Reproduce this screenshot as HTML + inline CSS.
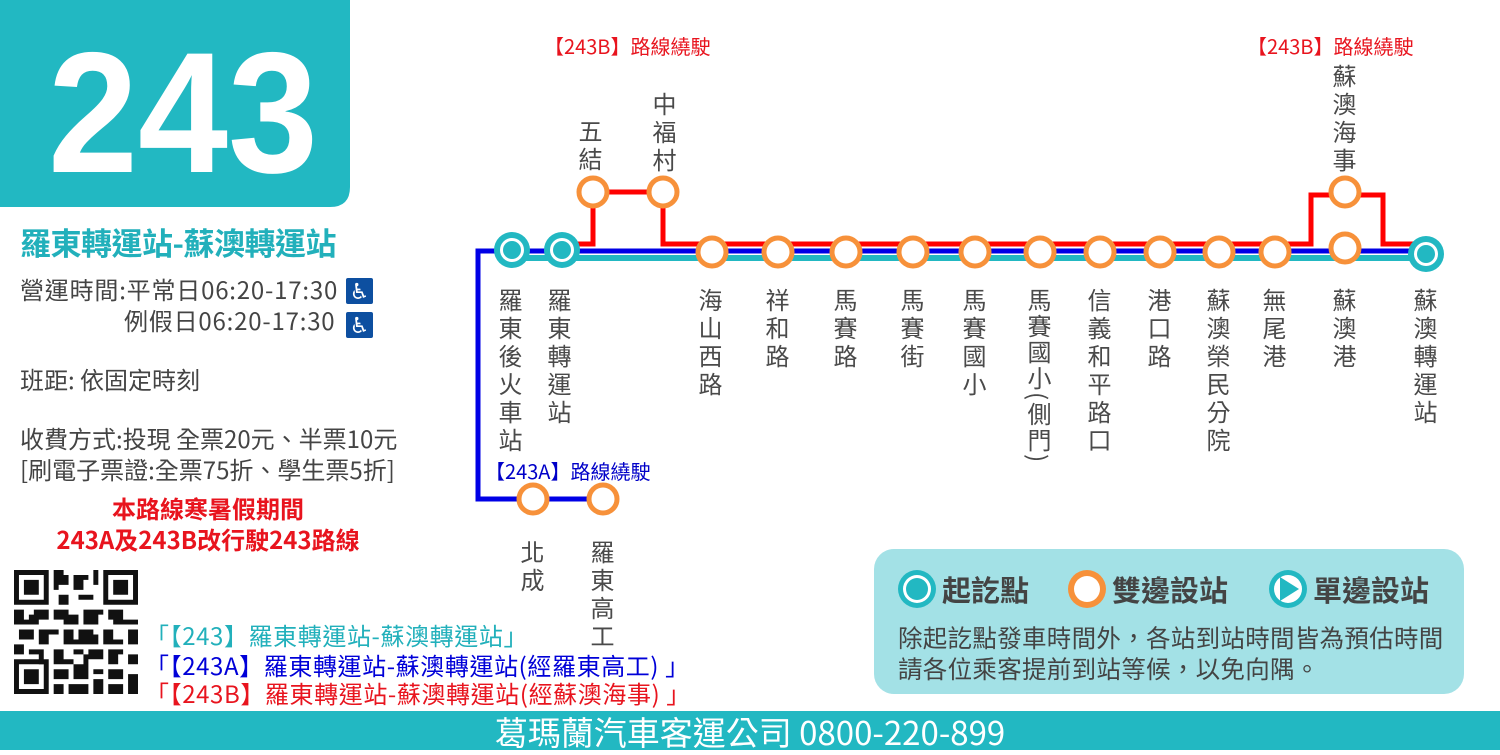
<!DOCTYPE html>
<html><head><meta charset="utf-8"><style>
body{margin:0;width:1500px;height:750px;position:relative;overflow:hidden;background:#fff;font-family:"Liberation Sans","Noto Sans CJK TC",sans-serif;}
.a{position:absolute;white-space:nowrap;}
.v{position:absolute;writing-mode:vertical-rl;text-orientation:mixed;font-family:"Noto Sans CJK TC",sans-serif;font-size:24px;line-height:24px;letter-spacing:4px;color:#4a4a4a;width:26px;}
.cjk{font-family:"Noto Sans CJK TC",sans-serif;}
</style></head><body>
<svg width="1500" height="750" style="position:absolute;left:0;top:0">
<path d="M0 0H350V187Q350 207 330 207H0Z" fill="#22b8c2"/>
<text x="183" y="172" text-anchor="middle" font-family="Liberation Sans" font-weight="bold" font-size="172" fill="#fff" textLength="270" lengthAdjust="spacingAndGlyphs">243</text>
<rect x="0" y="711" width="1500" height="39" fill="#22b8c2"/>
<rect x="874" y="549" width="590" height="145" rx="20" fill="#a3e1e6"/>
<polyline points="512,258 1425,258" stroke="#22b8c2" stroke-width="6" fill="none"/>
<polyline points="1425,251 478,251 478,499 603,499" stroke="#0000e6" stroke-width="5" fill="none"/>
<polyline points="562,244 593,244 593,192 663,192 663,244 1311,244 1311,195 1383,195 1383,244 1425,244" stroke="#f00" stroke-width="5" fill="none"/>
<g fill="#fff" stroke="#f7913a" stroke-width="5">
<circle cx="593" cy="192" r="14"/><circle cx="663" cy="192" r="14"/>
<circle cx="712" cy="252" r="14"/><circle cx="778" cy="252" r="14"/><circle cx="846" cy="252" r="14"/><circle cx="913" cy="252" r="14"/><circle cx="975" cy="252" r="14"/><circle cx="1040" cy="252" r="14"/><circle cx="1100" cy="252" r="14"/><circle cx="1160" cy="252" r="14"/><circle cx="1219" cy="252" r="14"/><circle cx="1275" cy="252" r="14"/><circle cx="1345" cy="248" r="14"/><circle cx="1345" cy="192" r="14"/>
<circle cx="533" cy="499" r="14"/><circle cx="603" cy="499" r="14"/>
</g>
<g>
<circle cx="512" cy="250" r="18" fill="#22b8c2"/><circle cx="512" cy="250" r="12" fill="#fff"/><circle cx="512" cy="250" r="9" fill="#22b8c2"/>
<circle cx="562" cy="250" r="18" fill="#22b8c2"/><circle cx="562" cy="250" r="12" fill="#fff"/><circle cx="562" cy="250" r="9" fill="#22b8c2"/>
<circle cx="1426" cy="254" r="18" fill="#22b8c2"/><circle cx="1426" cy="254" r="12" fill="#fff"/><circle cx="1426" cy="254" r="9" fill="#22b8c2"/>
</g>
<circle cx="917" cy="589" r="19" fill="#22b8c2"/><circle cx="917" cy="589" r="14" fill="#fff"/><circle cx="917" cy="589" r="11" fill="#22b8c2"/>
<circle cx="1087" cy="589" r="19" fill="#f7913a"/><circle cx="1087" cy="589" r="13" fill="#fff"/>
<circle cx="1288" cy="589" r="19" fill="#22b8c2"/><circle cx="1288" cy="589" r="14" fill="#fff"/><path d="M1280 577L1299 589L1280 601Z" fill="#22b8c2"/>
<rect x="346" y="278" width="27" height="26" rx="2" fill="#0d4fa0"/><text x="359.5" y="299" text-anchor="middle" fill="#fff" font-size="22" font-family="DejaVu Sans">♿</text>
<rect x="346" y="312" width="27" height="26" rx="2" fill="#0d4fa0"/><text x="359.5" y="333" text-anchor="middle" fill="#fff" font-size="22" font-family="DejaVu Sans">♿</text>
</svg>

<div class="a cjk" style="left:20px;top:219px;font-size:31px;font-weight:bold;color:#22b0bb;letter-spacing:-0.5px;">羅東轉運站-蘇澳轉運站</div>
<div class="a cjk" style="left:20px;top:271px;font-size:24px;color:#444;letter-spacing:0.8px;">營運時間:平常日06:20-17:30</div>
<div class="a cjk" style="left:124px;top:302px;font-size:24px;color:#444;letter-spacing:0.8px;">例假日06:20-17:30</div>
<div class="a cjk" style="left:20px;top:361px;font-size:24px;color:#444;">班距: 依固定時刻</div>
<div class="a cjk" style="left:20px;top:420px;font-size:24px;color:#444;">收費方式:投現 全票20元、半票10元</div>
<div class="a cjk" style="left:20px;top:451px;font-size:24px;color:#444;">[刷電子票證:全票75折、學生票5折]</div>
<div class="a cjk" style="left:0;width:416px;text-align:center;top:492px;font-size:24px;font-weight:bold;color:#e8141e;line-height:31px;white-space:normal;">本路線寒暑假期間<br>243A及243B改行駛243路線</div>

<svg width="124" height="124" style="position:absolute;left:14px;top:570px" viewBox="0 0 25 25">
<rect width="25" height="25" fill="#fff"/>
<g fill="#111">
<path d="M0 0h7v7h-7zM1 1v5h5v-5zM2 2h3v3h-3z" fill-rule="evenodd"/>
<path d="M18 0h7v7h-7zM19 1v5h5v-5zM20 2h3v3h-3z" fill-rule="evenodd"/>
<path d="M0 18h7v7h-7zM1 19v5h5v-5zM2 20h3v3h-3z" fill-rule="evenodd"/>
<path d="M8 0h2v1h1v2h-2v1h-1zM12 1h3v1h-1v2h-2zM16 0h1v3h-1zM9 5h2v2h-2zM13 5h3v1h-3zM8 8h3v1h2v2h-3v-1h-2zM0 8h2v2h1v1h-3zM4 8h3v2h-2v1h-1zM14 8h4v1h-1v2h-3zM19 8h3v2h3v1h-4v-1h-2zM1 12h3v2h-3zM5 12h4v1h-2v2h-2zM10 12h2v3h-2zM13 12h3v1h1v2h-4zM18 12h2v2h2v1h-4zM23 12h2v3h-2zM0 15h2v2h-2zM3 16h3v1h-3zM8 16h2v2h2v1h-4zM12 16h2v1h-2zM15 16h3v2h-3zM19 16h3v1h-1v2h-2zM23 17h2v2h-2zM8 20h3v2h-3zM12 19h3v3h-3zM16 20h2v1h-2zM19 20h3v2h-3zM8 23h2v2h-2zM11 23h4v2h-4zM16 22h2v3h-2zM19 23h3v2h-3zM23 21h2v4h-2zM9 2h1v1h-1zM3 9h1v2h-1zM11 14h2v1h-2zM5 17h1v2h-1zM20 10h2v1h-2zM14 17h1v2h-1z"/>
</g></svg>
<div class="a cjk" style="left:145px;top:617px;font-size:24px;color:#22b0bb;letter-spacing:0.6px;">「【243】羅東轉運站-蘇澳轉運站」</div>
<div class="a cjk" style="left:145px;top:647px;font-size:24px;color:#0000d8;letter-spacing:0.6px;">「【243A】羅東轉運站-蘇澳轉運站(經羅東高工) 」</div>
<div class="a cjk" style="left:145px;top:675px;font-size:24px;color:#e8141e;letter-spacing:0.6px;">「【243B】羅東轉運站-蘇澳轉運站(經蘇澳海事) 」</div>

<div class="a cjk" style="left:544px;top:31px;font-size:20px;color:#e8141e;">【243B】路線繞駛</div>
<div class="a cjk" style="left:1247px;top:31px;font-size:20px;color:#e8141e;">【243B】路線繞駛</div>
<div class="a cjk" style="left:485px;top:456px;font-size:20px;color:#0000c8;">【243A】路線繞駛</div>

<div class="v" style="left:576px;top:119px;">五結</div>
<div class="v" style="left:650px;top:92px;">中福村</div>
<div class="v" style="left:1330px;top:64px;">蘇澳海事</div>
<div class="v" style="left:496px;top:288px;">羅東後火車站</div>
<div class="v" style="left:545px;top:288px;">羅東轉運站</div>
<div class="v" style="left:696px;top:288px;">海山西路</div>
<div class="v" style="left:763px;top:288px;">祥和路</div>
<div class="v" style="left:831px;top:288px;">馬賽路</div>
<div class="v" style="left:898px;top:288px;">馬賽街</div>
<div class="v" style="left:960px;top:288px;">馬賽國小</div>
<div class="v" style="left:1025px;top:288px;letter-spacing:2px;">馬賽國小(側門)</div>
<div class="v" style="left:1085px;top:288px;">信義和平路口</div>
<div class="v" style="left:1145px;top:288px;">港口路</div>
<div class="v" style="left:1204px;top:288px;">蘇澳榮民分院</div>
<div class="v" style="left:1260px;top:288px;">無尾港</div>
<div class="v" style="left:1330px;top:288px;">蘇澳港</div>
<div class="v" style="left:1411px;top:288px;">蘇澳轉運站</div>
<div class="v" style="left:518px;top:540px;">北成</div>
<div class="v" style="left:588px;top:540px;">羅東高工</div>

<div class="a cjk" style="left:942px;top:568px;font-size:29px;font-weight:bold;color:#444;">起訖點</div>
<div class="a cjk" style="left:1112px;top:568px;font-size:29px;font-weight:bold;color:#444;">雙邊設站</div>
<div class="a cjk" style="left:1313px;top:568px;font-size:29px;font-weight:bold;color:#444;">單邊設站</div>
<div class="a cjk" style="left:898px;top:622px;font-size:24.5px;color:#444;line-height:31px;letter-spacing:0.3px;">除起訖點發車時間外，各站到站時間皆為預估時間<br>請各位乘客提前到站等候，以免向隅。</div>

<div class="a cjk" style="left:0;width:1500px;text-align:center;top:711px;font-size:33px;color:#fff;line-height:40px;">葛瑪蘭汽車客運公司 0800-220-899</div>
</body></html>
